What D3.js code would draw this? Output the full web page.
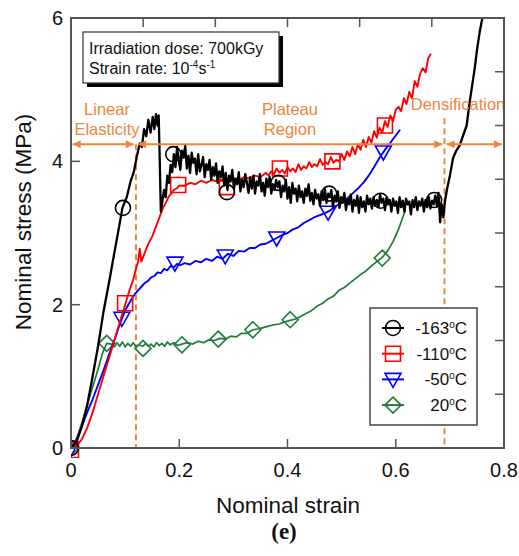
<!DOCTYPE html>
<html>
<head>
<meta charset="utf-8">
<script src="https://cdn.jsdelivr.net/npm/d3@7"></script>
<style>
  html, body { margin: 0; padding: 0; background: #fff; }
  svg { display: block; font-family: "Liberation Sans", Arial, sans-serif; }
</style>
</head>
<body>
<div class="chart"></div>
<script>
// series: [strain, stress]
const black163 = [[0,0],[0.01,0.08],[0.02,0.3],[0.03,0.6],[0.04,1.0],[0.05,1.42],[0.06,1.9],[0.07,2.3],[0.08,2.72],[0.088,3.05],[0.095,3.35],[0.103,3.5],[0.11,3.72],[0.116,3.85],[0.122,4.08],[0.127,4.25],[0.131,4.2],[0.135,4.45],[0.139,4.35],[0.143,4.58],[0.147,4.4],[0.151,4.62],[0.154,4.45],[0.157,4.66],[0.16,4.5],[0.162,4.64],[0.164,4.0],[0.166,3.3],[0.169,3.45],[0.172,3.6],[0.175,3.5],[0.178,3.8],[0.181,3.7],[0.184,3.95],[0.187,3.85],
  [0.190,4.10],[0.193,3.92],[0.196,4.20],[0.199,4.02],[0.202,3.88],[0.205,4.15],[0.208,4.05],[0.211,4.22],[0.214,3.90],[0.217,4.08],[0.220,3.84],[0.223,4.12],[0.226,3.98],[0.229,4.04],[0.232,3.82],[0.235,4.10],[0.238,3.86],[0.241,3.95],[0.244,4.06],[0.247,3.78],[0.250,3.96],[0.253,3.88],[0.256,4.02],[0.259,3.74],[0.262,3.92],[0.265,3.80],[0.268,3.97],[0.271,3.70],[0.274,3.86],[0.277,3.78],[0.280,3.93],[0.283,3.66],[0.286,3.84],[0.289,3.60],[0.292,3.80],[0.295,3.72],[0.298,3.88],[0.301,3.62],[0.304,3.76],[0.307,3.68],[0.310,3.85],[0.313,3.58],[0.316,3.74],[0.319,3.64],[0.322,3.82],[0.325,3.70],[0.328,3.56],[0.331,3.78],[0.334,3.62],[0.337,3.80],[0.340,3.55],[0.343,3.72],[0.346,3.66],[0.349,3.82],[0.352,3.58],[0.355,3.70],[0.358,3.52],[0.361,3.76],[0.364,3.64],[0.367,3.78],[0.370,3.55],[0.373,3.68],[0.376,3.60],[0.379,3.74],[0.382,3.64],[0.385,3.72],[0.388,3.50],[0.391,3.66],[0.394,3.58],[0.397,3.74],[0.400,3.48],[0.403,3.64],[0.406,3.42],[0.409,3.70],[0.412,3.55],[0.415,3.62],[0.418,3.44],[0.421,3.66],[0.424,3.50],[0.427,3.58],[0.430,3.42],[0.433,3.62],[0.436,3.52],[0.439,3.68],[0.442,3.45],[0.445,3.56],[0.448,3.40],[0.451,3.60],[0.454,3.48],[0.457,3.54],[0.460,3.38],[0.463,3.58],[0.466,3.46],[0.469,3.62],[0.472,3.42],[0.475,3.55],[0.478,3.50],[0.481,3.60],[0.484,3.36],[0.487,3.52],[0.490,3.44],[0.493,3.58],[0.496,3.35],[0.499,3.50],[0.502,3.42],[0.505,3.56],[0.508,3.32],[0.511,3.48],[0.514,3.40],[0.517,3.54],[0.520,3.30],[0.523,3.46],[0.526,3.38],[0.529,3.52],[0.532,3.28],[0.535,3.50],[0.538,3.36],[0.541,3.44],[0.544,3.30],[0.547,3.52],[0.550,3.40],[0.553,3.48],[0.556,3.34],[0.559,3.50],[0.562,3.38],[0.565,3.46],[0.568,3.36],[0.571,3.54],[0.574,3.42],[0.577,3.48],[0.580,3.32],[0.583,3.50],[0.586,3.40],[0.589,3.46],[0.592,3.30],[0.595,3.48],[0.598,3.38],[0.601,3.44],[0.604,3.28],[0.607,3.50],[0.610,3.36],[0.613,3.45],[0.616,3.30],[0.619,3.48],[0.622,3.40],[0.625,3.44],[0.628,3.26],[0.631,3.46],[0.634,3.36],[0.637,3.50],[0.640,3.32],[0.643,3.44],[0.646,3.38],[0.649,3.48],[0.652,3.30],[0.655,3.46],[0.658,3.36],[0.661,3.50],[0.664,3.34],[0.667,3.45],[0.670,3.40],[0.673,3.52],[0.676,3.38],[0.679,3.56],[0.682,3.15],[0.685,3.40],[0.688,3.22],[0.691,3.45],
  [0.695,3.62],[0.7,3.8],[0.706,4.05],[0.712,4.15],[0.718,4.22],[0.724,4.35],[0.731,4.5],[0.736,4.8],[0.741,5.05],[0.746,5.3],[0.75,5.55],[0.755,5.8],[0.76,6.0],[0.764,6.2]];
const red110 = [[0,0],[0.01,0.03],[0.02,0.12],[0.03,0.28],[0.04,0.5],[0.05,0.75],[0.06,1.0],[0.07,1.25],[0.08,1.5],[0.09,1.75],[0.1,2.0],[0.108,2.2],[0.115,2.35],[0.12,2.5],[0.124,2.6],[0.127,2.78],[0.13,2.6],[0.135,2.7],[0.14,2.8],[0.145,2.88],[0.15,2.95],[0.155,3.05],[0.16,3.15],[0.165,3.25],[0.17,3.35],[0.175,3.42],[0.18,3.5],[0.185,3.55],[0.19,3.6],[0.195,3.62],[0.2,3.66],[0.21,3.66],[0.22,3.7],[0.23,3.68],[0.24,3.73],[0.25,3.7],[0.26,3.74],[0.27,3.72],[0.28,3.73],[0.29,3.7],[0.3,3.76],[0.31,3.74],[0.32,3.78],[0.33,3.76],[0.34,3.8],[0.35,3.78],[0.36,3.84],[0.365,3.8],[0.37,3.86],[0.375,3.82],[0.38,3.9],[0.385,3.84],[0.39,3.88],[0.395,3.83],[0.4,3.92],[0.405,3.86],[0.41,3.9],[0.415,3.85],[0.42,3.96],[0.425,3.88],[0.43,3.93],[0.435,3.9],[0.44,3.99],[0.445,3.92],[0.45,3.96],[0.455,3.93],[0.46,4.03],[0.465,3.95],[0.47,3.99],[0.475,3.96],[0.48,4.06],[0.485,3.98],[0.49,4.02],[0.495,4.0],[0.5,4.1],[0.505,4.02],[0.51,4.14],[0.515,4.07],[0.52,4.2],[0.525,4.1],[0.53,4.24],[0.535,4.16],[0.54,4.3],[0.545,4.2],[0.55,4.34],[0.555,4.26],[0.56,4.42],[0.565,4.33],[0.57,4.47],[0.575,4.4],[0.58,4.56],[0.585,4.48],[0.59,4.64],[0.595,4.56],[0.6,4.72],[0.605,4.76],[0.61,4.7],[0.615,4.88],[0.62,4.8],[0.625,4.97],[0.63,4.88],[0.635,5.12],[0.64,5.04],[0.645,5.22],[0.65,5.3],[0.655,5.24],[0.66,5.44],[0.665,5.5]];
const blue50 = [[0,0],[0.01,0.12],[0.02,0.3],[0.03,0.5],[0.04,0.68],[0.05,0.88],[0.06,1.08],[0.07,1.3],[0.08,1.5],[0.088,1.68],[0.094,1.8],[0.1,1.92],[0.106,2.0],[0.112,2.08],[0.118,2.15],[0.124,2.2],[0.13,2.25],[0.136,2.3],[0.142,2.33],[0.148,2.38],[0.154,2.4],[0.16,2.45],[0.166,2.44],[0.172,2.5],[0.178,2.48],[0.184,2.54],[0.19,2.52],[0.196,2.57],[0.202,2.55],[0.21,2.58],[0.22,2.56],[0.23,2.61],[0.24,2.59],[0.25,2.64],[0.26,2.61],[0.27,2.67],[0.28,2.64],[0.29,2.71],[0.3,2.68],[0.31,2.75],[0.32,2.74],[0.33,2.79],[0.34,2.79],[0.35,2.84],[0.36,2.85],[0.37,2.89],[0.38,2.93],[0.39,2.97],[0.4,3.0],[0.41,3.05],[0.42,3.08],[0.43,3.14],[0.44,3.18],[0.45,3.22],[0.46,3.25],[0.47,3.28],[0.48,3.32],[0.49,3.38],[0.5,3.42],[0.51,3.48],[0.52,3.55],[0.53,3.62],[0.54,3.7],[0.55,3.8],[0.56,3.92],[0.57,4.05],[0.58,4.16],[0.59,4.26],[0.6,4.36],[0.608,4.44]];
const green20 = [[0,0],[0.01,0.12],[0.02,0.35],[0.03,0.6],[0.04,0.85],[0.05,1.1],[0.058,1.32],[0.066,1.46],[0.075,1.45],[0.08,1.41],[0.085,1.47],[0.09,1.42],[0.095,1.48],[0.1,1.41],[0.105,1.46],[0.11,1.42],[0.115,1.47],[0.12,1.41],[0.125,1.44],[0.133,1.42],[0.138,1.46],[0.143,1.42],[0.148,1.45],[0.153,1.41],[0.158,1.47],[0.163,1.43],[0.168,1.46],[0.173,1.42],[0.178,1.48],[0.183,1.44],[0.19,1.47],[0.197,1.43],[0.205,1.45],[0.215,1.47],[0.225,1.45],[0.235,1.49],[0.245,1.47],[0.255,1.51],[0.265,1.5],[0.275,1.53],[0.285,1.52],[0.295,1.56],[0.305,1.55],[0.315,1.6],[0.325,1.6],[0.336,1.65],[0.345,1.66],[0.355,1.68],[0.365,1.7],[0.375,1.72],[0.385,1.73],[0.395,1.76],[0.405,1.78],[0.415,1.8],[0.425,1.84],[0.435,1.88],[0.445,1.92],[0.455,1.98],[0.465,2.02],[0.475,2.08],[0.485,2.12],[0.495,2.2],[0.505,2.24],[0.515,2.3],[0.525,2.36],[0.535,2.42],[0.545,2.47],[0.555,2.54],[0.565,2.6],[0.575,2.66],[0.585,2.75],[0.595,2.88],[0.605,3.05],[0.612,3.2],[0.618,3.32]];

// marker positions
const black163Marks = [[0,0],[0.096,3.35],[0.189,4.1],[0.288,3.57],[0.383,3.7],[0.477,3.55],[0.572,3.45],[0.671,3.46]];
const red110Marks = [[0,-0.03],[0.1,2.02],[0.198,3.67],[0.288,3.64],[0.386,3.9],[0.483,4.0],[0.58,4.5]];
const blue50Marks = [[0,0],[0.094,1.81],[0.192,2.58],[0.285,2.68],[0.38,2.93],[0.475,3.29],[0.577,4.13]];
const green20Marks = [[0,0],[0.066,1.46],[0.133,1.39],[0.205,1.44],[0.272,1.52],[0.336,1.65],[0.405,1.79],[0.575,2.65]];

const seriesNames = ['-163', '-110', '-50', '20'];
const xTickLabels = [0, 0.2, 0.4, 0.6, 0.8];
const xTicks = [0.2, 0.4, 0.6];
const yTickLabels = [0, 2, 4, 6];
const yTicks = [2, 4];
const topTicks = [0.8/6, 1.6/6, 2.4/6, 3.2/6, 4.0/6];
const rightTicks = [0.75, 1.5, 2.25, 3, 3.75, 4.5, 5.25];
const regionBounds = [0, 0.12, 0.69, 0.8];
const arrowStress = 4.24;

const width = 519, height = 556;
const orange = '#f0843c';
const frameColor = '#555';

const svg = d3.select('.chart').append('svg')
    .attr('width', width).attr('height', height);

const x = d3.scaleLinear().domain([0, 0.8]).range([71, 504]);
const y = d3.scaleLinear().domain([0, 6]).range([448, 18]);

svg.append('defs').append('clipPath').attr('id', 'plotclip')
    .append('rect')
    .attr('x', x(0)).attr('y', y(6))
    .attr('width', x(0.8) - x(0)).attr('height', y(0) - y(6) + 10);

// orange dashed region lines
svg.append('line')
    .attr('x1', x(regionBounds[1])).attr('x2', x(regionBounds[1]))
    .attr('y1', y(arrowStress)).attr('y2', y(0))
    .attr('stroke', orange).attr('stroke-width', 2).attr('stroke-dasharray', '6,4');
svg.append('line')
    .attr('x1', x(regionBounds[2])).attr('x2', x(regionBounds[2]))
    .attr('y1', y(4.6)).attr('y2', y(0))
    .attr('stroke', orange).attr('stroke-width', 2).attr('stroke-dasharray', '6,4');

// curves
const line = d3.line().x(d => x(d[0])).y(d => y(d[1]));
const curves = [
  {data: green20, marks: green20Marks, color: '#1f7a3c', shape: 'diamond', w: 1.7},
  {data: blue50, marks: blue50Marks, color: '#0000ff', shape: 'triangle', w: 1.9},
  {data: red110, marks: red110Marks, color: '#ff0000', shape: 'square', w: 1.9},
  {data: black163, marks: black163Marks, color: '#000000', shape: 'circle', w: 2.3}
];

const shapePath = (shape, cx, cy) => {
  const p = d3.path();
  if (shape === 'square') {
    p.rect(cx - 7.5, cy - 7.5, 15, 15);
  } else if (shape === 'triangle') {
    p.moveTo(cx - 8, cy - 6); p.lineTo(cx + 8, cy - 6); p.lineTo(cx, cy + 8); p.closePath();
  } else if (shape === 'diamond') {
    p.moveTo(cx, cy - 8); p.lineTo(cx + 8, cy); p.lineTo(cx, cy + 8); p.lineTo(cx - 8, cy); p.closePath();
  } else {
    p.arc(cx, cy, 7.5, 0, 2 * Math.PI);
  }
  return p.toString();
};

const plot = svg.append('g').attr('clip-path', 'url(#plotclip)');
curves.forEach(c => {
  plot.append('path')
      .datum(c.data)
      .attr('d', line)
      .attr('fill', 'none')
      .attr('stroke', c.color)
      .attr('stroke-width', c.w)
      .attr('stroke-linejoin', 'round');
  plot.selectAll(null)
      .data(c.marks)
      .enter()
      .append('path')
      .attr('d', d => shapePath(c.shape, x(d[0]), y(d[1])))
      .attr('fill', 'none')
      .attr('stroke', c.color)
      .attr('stroke-width', 1.6);
});

// orange double arrows
const arrowY = y(arrowStress);
const arrowSpans = [
  [regionBounds[0] + 0.003, regionBounds[1] - 0.004],
  [regionBounds[1] + 0.004, regionBounds[2] - 0.004],
  [regionBounds[2] + 0.004, regionBounds[3] - 0.004]
];
arrowSpans.forEach(s => {
  const x1 = x(s[0]), x2 = x(s[1]);
  svg.append('line')
      .attr('x1', x1).attr('x2', x2).attr('y1', arrowY).attr('y2', arrowY)
      .attr('stroke', orange).attr('stroke-width', 2);
  svg.append('path')
      .attr('d', `M${x1},${arrowY}l8,-4l0,8z M${x2},${arrowY}l-8,-4l0,8z`)
      .attr('fill', orange);
});

const annot = [
  {lines: ['Linear', 'Elasticity'], cx: 107, y0: 115},
  {lines: ['Plateau', 'Region'], cx: 290, y0: 115},
  {lines: ['Densification'], cx: 458, y0: 110}
];
annot.forEach(a => {
  a.lines.forEach((t, i) => {
    svg.append('text')
        .attr('x', a.cx).attr('y', a.y0 + i * 20)
        .attr('text-anchor', 'middle')
        .attr('font-size', 16.5)
        .attr('fill', orange)
        .text(t);
  });
});

// frame
svg.append('rect')
    .attr('x', x(0)).attr('y', y(6))
    .attr('width', x(0.8) - x(0)).attr('height', y(0) - y(6))
    .attr('fill', 'none').attr('stroke', frameColor).attr('stroke-width', 2);

const tickLen = 9;
const tickG = svg.append('g').attr('stroke', frameColor).attr('stroke-width', 1.5);
xTicks.forEach(v => {
  tickG.append('line').attr('x1', x(v)).attr('x2', x(v)).attr('y1', y(0)).attr('y2', y(0) - tickLen);
});
topTicks.forEach(v => {
  tickG.append('line').attr('x1', x(v)).attr('x2', x(v)).attr('y1', y(6)).attr('y2', y(6) + tickLen);
});
yTicks.forEach(v => {
  tickG.append('line').attr('x1', x(0)).attr('x2', x(0) + tickLen).attr('y1', y(v)).attr('y2', y(v));
});
rightTicks.forEach(v => {
  tickG.append('line').attr('x1', x(0.8)).attr('x2', x(0.8) - tickLen).attr('y1', y(v)).attr('y2', y(v));
});

// tick labels
svg.selectAll('text.xt').data(xTickLabels).enter().append('text')
    .attr('class', 'xt')
    .attr('x', d => x(d)).attr('y', 477)
    .attr('text-anchor', 'middle').attr('font-size', 20).attr('fill', '#111')
    .text(d => d);
svg.selectAll('text.yt').data(yTickLabels).enter().append('text')
    .attr('class', 'yt')
    .attr('x', 63).attr('y', d => y(d) + 7)
    .attr('text-anchor', 'end').attr('font-size', 20).attr('fill', '#111')
    .text(d => d);

// axis titles
svg.append('text')
    .attr('x', 288).attr('y', 513)
    .attr('text-anchor', 'middle').attr('font-size', 22.5).attr('fill', '#111')
    .text('Nominal strain');
svg.append('text')
    .attr('transform', 'translate(31,222) rotate(-90)')
    .attr('text-anchor', 'middle').attr('font-size', 22.5).attr('fill', '#111')
    .text('Nominal stress (MPa)');
svg.append('text')
    .attr('x', 284).attr('y', 539)
    .attr('text-anchor', 'middle').attr('font-size', 23).attr('font-weight', 'bold')
    .attr('font-family', '"Liberation Serif", "DejaVu Serif", serif')
    .attr('fill', '#111')
    .text('(e)');

// info box
svg.append('rect').attr('x', 87).attr('y', 36).attr('width', 196).attr('height', 51).attr('fill', '#000');
svg.append('rect').attr('x', 83).attr('y', 32).attr('width', 196).attr('height', 51)
    .attr('fill', '#fff').attr('stroke', '#333').attr('stroke-width', 1.2);
svg.append('text').attr('x', 89).attr('y', 54).attr('font-size', 16).attr('fill', '#111')
    .text('Irradiation dose: 700kGy');
const sr = svg.append('text').attr('x', 89).attr('y', 74).attr('font-size', 16).attr('fill', '#111');
sr.append('tspan').text('Strain rate: 10');
sr.append('tspan').attr('font-size', 10).attr('dy', -6).text('-4');
sr.append('tspan').attr('dy', 6).text('s');
sr.append('tspan').attr('font-size', 10).attr('dy', -6).text('-1');

// legend
const legend = svg.append('g');
legend.append('rect').attr('x', 370).attr('y', 308).attr('width', 107).attr('height', 117)
    .attr('fill', '#fff').attr('stroke', '#444').attr('stroke-width', 1.5);
const legendCurves = curves.slice().reverse();
legendCurves.forEach((c, i) => {
  const ly = 328 + i * 25.7;
  legend.append('line').attr('x1', 382).attr('x2', 404).attr('y1', ly).attr('y2', ly)
      .attr('stroke', c.color).attr('stroke-width', 2);
  legend.append('path').attr('d', shapePath(c.shape, 393, ly))
      .attr('fill', 'none').attr('stroke', c.color).attr('stroke-width', 1.6);
  const t = legend.append('text').attr('x', 467).attr('y', ly + 6)
      .attr('text-anchor', 'end').attr('font-size', 17).attr('fill', '#111');
  t.append('tspan').text(seriesNames[i]);
  t.append('tspan').attr('font-size', 10).attr('dy', -6).text('o');
  t.append('tspan').attr('dy', 6).text('C');
});
</script>
</body>
</html>
